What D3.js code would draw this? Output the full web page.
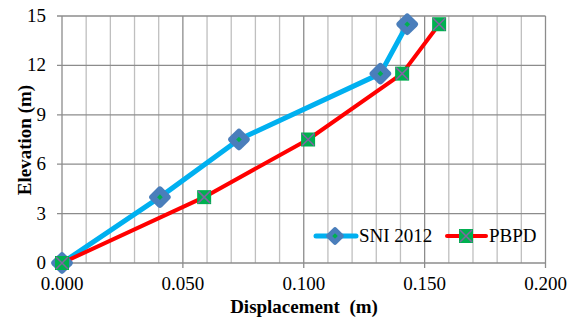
<!DOCTYPE html>
<html>
<head>
<meta charset="utf-8">
<script src="https://cdn.jsdelivr.net/npm/d3@7"></script>
<style>
  body { margin: 0; background: #fff; }
</style>
</head>
<body>
<svg id="chart" width="576" height="325"></svg>
<script>
// data
const elevations = [0, 4, 7.5, 11.5, 14.5];
const sniDisp = [0, 0.0405, 0.0732, 0.1317, 0.1428];
const pbpdDisp = [0, 0.0588, 0.1018, 0.1407, 0.1560];
const seriesNames = ['SNI 2012', 'PBPD'];
const xTicks = [0, 0.05, 0.1, 0.15, 0.2];
const yTicks = [0, 3, 6, 9, 12, 15];

const FONT = '"Liberation Serif", Tinos, "Times New Roman", serif';
const svg = d3.select('#chart').style('font-family', FONT);
const x = d3.scaleLinear().domain([0, 0.2]).range([62, 545.5]);
const y = d3.scaleLinear().domain([0, 15]).range([263, 16]);

function label(sel, size) {
  return sel.style('font-family', FONT).style('font-size', size + 'px');
}

// minor vertical grid every 0.01
const minor = d3.range(1, 20).map(i => i * 0.01).filter(v => Math.round(v * 100) % 5 !== 0);
svg.append('g').selectAll('line').data(minor).join('line')
  .attr('x1', d => x(d)).attr('x2', d => x(d))
  .attr('y1', y(15)).attr('y2', y(0))
  .attr('stroke', '#bfbfbf').attr('stroke-width', 1.3);

// major grids
svg.append('g').selectAll('line').data(xTicks).join('line')
  .attr('x1', d => x(d)).attr('x2', d => x(d))
  .attr('y1', y(15)).attr('y2', y(0) + 5)
  .attr('stroke', '#8c8c8c').attr('stroke-width', 1.3);
svg.append('g').selectAll('line').data(yTicks).join('line')
  .attr('x1', x(0) - 5).attr('x2', x(0.2))
  .attr('y1', d => y(d)).attr('y2', d => y(d))
  .attr('stroke', '#8c8c8c').attr('stroke-width', 1.3);

// tick labels
label(svg.append('g').selectAll('text').data(xTicks).join('text'), 19)
  .attr('x', d => x(d)).attr('y', 290)
  .attr('text-anchor', 'middle')
  .text(d => d3.format('.3f')(d));
label(svg.append('g').selectAll('text').data(yTicks).join('text'), 19)
  .attr('x', 46).attr('y', d => y(d) + 6)
  .attr('text-anchor', 'end')
  .text(d => d);

// axis titles
label(svg.append('text'), 19).attr('x', 304).attr('y', 313)
  .attr('text-anchor', 'middle').style('font-weight', 'bold')
  .style('white-space', 'pre')
  .text('Displacement  (m)');
label(svg.append('text'), 19).attr('transform', 'translate(31,140) rotate(-90)')
  .attr('text-anchor', 'middle').style('font-weight', 'bold')
  .text('Elevation (m)');

const line = d3.line().x(d => x(d[0])).y(d => y(d[1]));
const sni = sniDisp.map((d, i) => [d, elevations[i]]);
const pbpd = pbpdDisp.map((d, i) => [d, elevations[i]]);

function diamond(g, cx, cy, s) {
  g.append('rect').attr('x', cx - s / 2).attr('y', cy - s / 2).attr('width', s).attr('height', s)
    .attr('rx', s * 0.18).attr('fill', '#4a7ebb')
    .attr('transform', `rotate(45,${cx},${cy})`);
  g.append('rect').attr('x', cx - 2).attr('y', cy - 2).attr('width', 4).attr('height', 4)
    .attr('fill', '#00b050').attr('transform', `rotate(45,${cx},${cy})`);
}
function square(g, cx, cy) {
  g.append('rect').attr('x', cx - 7).attr('y', cy - 7).attr('width', 14).attr('height', 14)
    .attr('fill', '#00b050');
  g.append('path').attr('d', `M${cx - 6},${cy - 6}L${cx + 6},${cy + 6}M${cx + 6},${cy - 6}L${cx - 6},${cy + 6}`)
    .attr('stroke', '#8064a2').attr('stroke-width', 1.5);
}

svg.append('path').datum(sni).attr('d', line)
  .attr('fill', 'none').attr('stroke', '#00b0f0').attr('stroke-width', 5).attr('stroke-linejoin', 'round');
svg.append('path').datum(pbpd).attr('d', line)
  .attr('fill', 'none').attr('stroke', '#ff0000').attr('stroke-width', 4).attr('stroke-linejoin', 'round');

const mk = svg.append('g');
sni.forEach(d => diamond(mk, x(d[0]), y(d[1]), 17));
pbpd.forEach(d => square(mk, x(d[0]), y(d[1])));

// legend
const lg = svg.append('g');
lg.append('line').attr('x1', 316).attr('x2', 356).attr('y1', 236).attr('y2', 236)
  .attr('stroke', '#00b0f0').attr('stroke-width', 5).attr('stroke-linecap', 'round');
diamond(lg, 335, 236, 14);
label(lg.append('text'), 19).attr('x', 359).attr('y', 242).text(seriesNames[0]);
lg.append('line').attr('x1', 447).attr('x2', 486).attr('y1', 236).attr('y2', 236)
  .attr('stroke', '#ff0000').attr('stroke-width', 4).attr('stroke-linecap', 'round');
square(lg, 466, 236);
label(lg.append('text'), 19).attr('x', 489).attr('y', 242).text(seriesNames[1]);
</script>
</body>
</html>
